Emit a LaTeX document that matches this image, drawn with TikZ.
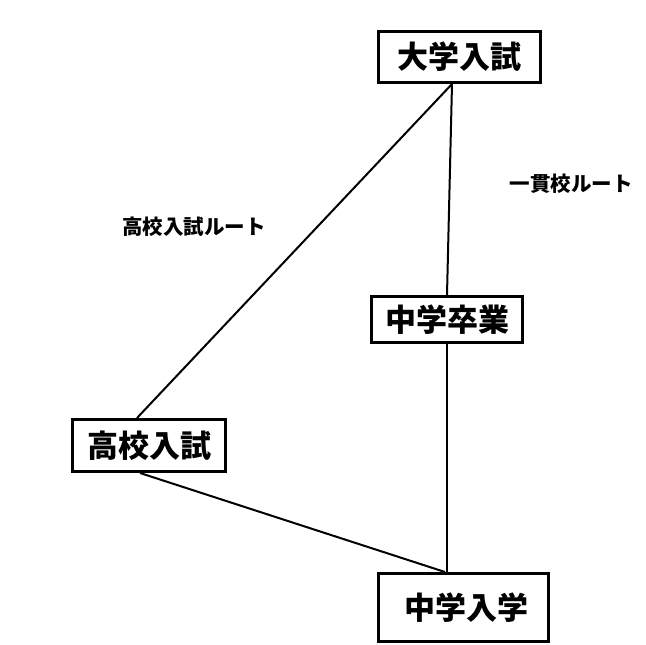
\documentclass[tikz,border=0pt]{standalone}
\usepackage{fontspec}
\newfontfamily\jpfont{Noto Sans CJK JP}
\tikzset{
  stagebox/.style={draw, line width=3pt, inner sep=0pt, font=\jpfont\bfseries\fontsize{31}{31}\selectfont},
  routelabel/.style={font=\jpfont\bfseries\fontsize{20.5}{20.5}\selectfont},
  route/.style={line width=2pt}
}
\begin{document}
\begin{tikzpicture}[x=1pt, y=-1pt]
	\useasboundingbox (0,0) rectangle (646,645);
	
	% Stages
	\node[stagebox, minimum width=162pt, minimum height=51pt] (daigaku) at (459.5,57) {\raisebox{2pt}{大学入試}};
	\node[stagebox, minimum width=151pt, minimum height=46pt] (chusotsu) at (447,319.5) {中学卒業};
	\node[stagebox, minimum width=153pt, minimum height=52pt] (koko) at (149,445.5) {高校入試};
	\node[stagebox, minimum width=170pt, minimum height=68pt] (chunyu) at (463.5,607.5) {\raisebox{-5pt}{\hspace{5pt}中学入学}};
	
	% Routes
	\draw[route] ([xshift=-7.5pt]daigaku.south) -- (chusotsu.north);           % one-school route
	\draw[route] ([xshift=-7.5pt]daigaku.south) -- ([xshift=-12pt]koko.north);  % high school entrance route
	\draw[route] (chusotsu.south) -- ([xshift=-16.5pt]chunyu.north);
	\draw[route] ([xshift=-9pt]koko.south) -- ([xshift=-18.5pt]chunyu.north);
	
	% Labels
	\node[routelabel] (ikkan) at (571,184) {一貫校ルート};
	\node[routelabel] (kokoroute) at (194,227) {高校入試ルート};
	
\end{tikzpicture}
\end{document}
